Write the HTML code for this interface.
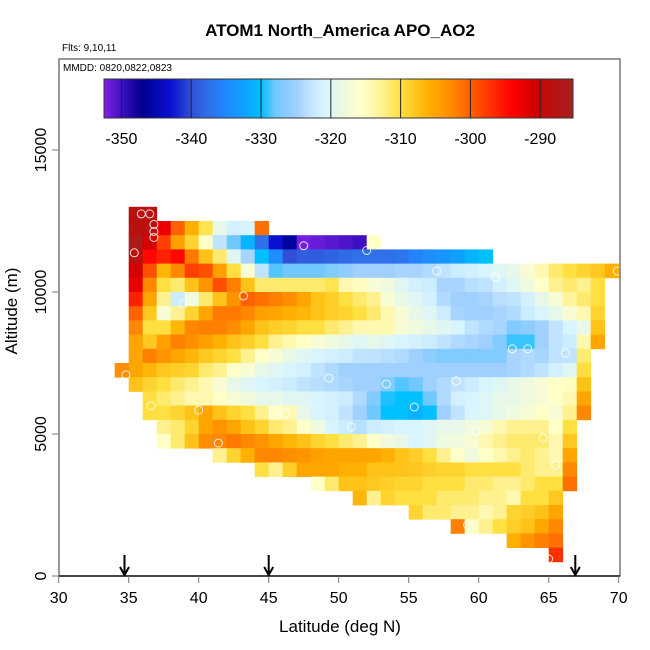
<!DOCTYPE html>
<html><head><meta charset="utf-8">
<style>
html,body{margin:0;padding:0;background:#fff;}
svg{display:block;font-family:"Liberation Sans",Arial,sans-serif;}
</style></head>
<body>
<svg id="chart" width="650" height="650" viewBox="0 0 650 650" xmlns="http://www.w3.org/2000/svg">
  <text x="340" y="36" font-size="17" font-weight="bold" text-anchor="middle">ATOM1 North_America APO_AO2</text>
  <text x="62" y="51" font-size="10">Flts: 9,10,11</text>
  <g id="cells"></g>
  <g id="points"></g>
  <rect x="59" y="59" width="561" height="517" fill="none" stroke="#777" stroke-width="1.5"/>
  <line x1="59" y1="576" x2="620" y2="576" stroke="#000" stroke-width="1.2"/>
  <text x="63" y="71" font-size="10">MMDD: 0820,0822,0823</text>
  <g id="cbar"></g>
  <g id="axes"></g>
  <g id="arrows"></g>
  <text x="340" y="632" font-size="17" text-anchor="middle">Latitude (deg N)</text>
  <text transform="translate(17,311) rotate(-90)" font-size="17" text-anchor="middle">Altitude (m)</text>
</svg>
<script>
// ---- data ----
const altRowTops = [13000,12500,12000,11500,11000,10500,10000,9500,9000,8500,8000,7500,7000,6500,6000,5500,5000,4500,4000,3500,3000,2500,2000,1500,1000];
const rowStartLat = [35,35,35,35,35,35,35,35,35,35,35,34,35,36,36,37,37,41,44,48,51,55,58,62,65];
const rowValues = [
[-288.5,-288.5],
[-288.5,-288.5,-292.5,-300,-306,-310.5,-319,-321.5,-321,-301],
[-286,-291,-298,-304.5,-309,-315.5,-323,-328,-331,-337.5,-343,-346,-352,-351.5,-351,-350.5,-350,-315.5],
[-288.5,-294.5,-296,-294.5,-301.5,-307.5,-311.5,-320,-324.5,-330,-334.5,-340,-339,-339,-338.5,-338,-337.5,-337.5,-337.5,-337,-335.5,-334.5,-333.5,-332.5,-331,-330],
[-291,-299,-306.5,-302.5,-298,-299,-304.5,-310,-317,-323,-328.5,-328,-328,-328,-327,-326,-325,-325,-325,-324.5,-324.5,-324,-323,-322,-321.5,-321,-320,-319,-317,-314,-311.5,-310,-309,-308,-306],
[-292.5,-302.5,-310,-311.5,-307.5,-303.5,-299,-302,-307.5,-311.5,-311.5,-311.5,-311.5,-311.5,-310.5,-314,-315,-317,-318,-320,-321.5,-322,-324.5,-324.5,-323.5,-323,-321.5,-320,-318,-315.5,-312.5,-311.5,-312.5,-310],
[-296,-305,-312.5,-322,-318,-311.5,-307.5,-303.5,-300,-301,-302,-303,-305,-307.5,-308.5,-310,-311.5,-312.5,-317,-319,-320,-321.5,-324,-325,-325,-324.5,-323.5,-323,-321.5,-319,-317,-313,-311.5,-310],
[-300,-308,-317,-312.5,-309,-305,-301.5,-301.5,-302.5,-304.5,-305,-306,-306.5,-307.5,-308.5,-309,-310,-311.5,-314,-317,-319,-320,-322,-324.5,-325,-325,-324.5,-324,-322,-321,-319,-317,-314,-309],
[-302.5,-310,-310,-306.5,-302.5,-302,-302,-303,-305,-307.5,-308.5,-309,-310,-310,-311.5,-312.5,-314,-314,-314,-317,-318,-319,-320,-321,-323,-324,-324.5,-327,-326,-325,-323,-321,-319,-307.5],
[-305,-308,-304.5,-302,-303,-304.5,-306,-307.5,-308.5,-310,-312.5,-314,-315.5,-317,-318,-319,-320,-319,-320,-321,-321.5,-322,-323,-324,-324.5,-325,-327,-329,-329,-325,-323,-322,-314,-305],
[-305,-302,-303.5,-305,-306.5,-308,-309,-310,-312.5,-315.5,-317,-319,-320,-321,-321.5,-322,-323,-323,-323.5,-324,-325,-326,-327,-327,-327,-327,-327,-324.5,-324,-324.5,-323,-323,-311.5],
[-303,-305,-306.5,-308,-308.5,-309,-311.5,-312.5,-315.5,-317,-319,-320,-321,-321.5,-323,-324,-325,-325,-325,-325,-325,-325,-325,-325,-325,-325,-325,-325,-324.5,-324,-323,-321.5,-320,-310],
[-307.5,-309,-310,-311.5,-312.5,-314,-317,-319,-320,-321,-321.5,-322,-323,-323.5,-324,-324.5,-325,-325,-327,-328.5,-328,-325,-324,-323,-322,-321,-320,-319,-318,-317,-315.5,-315,-307.5],
[-310,-311.5,-312.5,-314,-314,-315.5,-317,-318,-319,-319,-320,-320,-321,-321.5,-322,-324,-327,-329.5,-330,-330,-328,-324,-321.5,-321,-320,-319,-319,-318,-317,-315.5,-314,-305],
[-310,-310,-309,-307.5,-305,-307.5,-309,-310,-312.5,-315.5,-314,-319,-321,-321.5,-323,-325,-328,-330,-330,-331,-330,-325,-323,-321,-320,-319,-318,-317,-315.5,-317,-312.5,-302.5],
[-312.5,-311.5,-309,-305,-303.5,-305,-307.5,-309,-311.5,-312.5,-315.5,-318,-321,-322,-323.5,-322,-321.5,-321,-321,-320,-319,-319,-318,-317,-314,-312.5,-312.5,-312.5,-315.5,-310],
[-315.5,-311.5,-307.5,-303,-302.5,-301.5,-302.5,-303.5,-305,-306.5,-307.5,-309,-310,-311.5,-312.5,-315.5,-318,-319,-321,-320,-318,-318,-317,-314,-312.5,-311.5,-311.5,-311.5,-314,-308],
[-312.5,-309,-306,-302.5,-302.5,-303,-303.5,-304.5,-305,-305,-305,-305,-306,-307.5,-308.5,-310,-312.5,-315.5,-318,-315.5,-314,-312.5,-311.5,-312.5,-314,-305],
[-310,-312.5,-308.5,-305,-305,-305,-306,-306,-307.5,-307.5,-307.5,-308,-308.5,-309,-309,-310,-310,-310,-310,-311.5,-312.5,-312.5,-302.5],
[-315.5,-311.5,-307.5,-307.5,-308,-308.5,-309,-309,-310,-310,-310,-311.5,-311.5,-312.5,-312.5,-311.5,-310,-310,-301],
[-306.5,-312.5,-309,-310,-310,-310,-311.5,-311.5,-311.5,-312.5,-312.5,-314,-310,-310,-308],
[-309,-311.5,-311.5,-312.5,-312.5,-314,-312.5,-309,-308.5,-307.5,-305],
[-302,-315.5,-312.5,-310,-308.5,-307.5,-305,-302.5],
[-306,-303.5,-302,-301],
[-297]
];
const pointLat = [35.9,36.5,36.8,36.8,36.8,35.4,47.5,52.0,57.0,61.2,69.9,43.2,38.9,34.8,36.6,40.0,41.4,46.2,49.3,53.4,58.4,55.4,50.9,59.8,62.4,63.5,66.2,64.6,65.5,59.2,65.0];
const pointAlt = [12750,12750,12380,12130,11920,11380,11630,11460,10740,10530,10740,9860,9580,7080,6000,5840,4680,5740,6970,6760,6870,5950,5250,5110,8000,8000,7850,4860,3910,1800,600];
const arrowLat = [34.7,45.0,66.9];
const xTicks = [30,35,40,45,50,55,60,65,70];
const yTicks = [0,5000,10000,15000];
const cbarTicks = [-350,-340,-330,-320,-310,-300,-290];
const cbarMin = -352.5, cbarMax = -285.3;

// ---- scales ----
const xS = lat => 58.7 + (lat-30)*14;
const yS = alt => 576 - alt*(426/15000);
const stops = [[-352.5,'#8222e8'],[-350,'#4010c0'],[-347,'#000090'],[-343,'#0a10d0'],[-340,'#3050d8'],[-337.5,'#3070e8'],[-335,'#2088ff'],[-332.5,'#10a0ff'],[-330,'#00c0ff'],[-328,'#70c8ff'],[-325,'#a0d0ff'],[-323,'#c0e4ff'],[-321,'#d8f4ff'],[-319,'#e8f8e8'],[-317,'#f8fcd4'],[-315.5,'#ffffc8'],[-314,'#fff8b0'],[-312.5,'#fff090'],[-310,'#ffe040'],[-308,'#ffc820'],[-306,'#ffb000'],[-304.5,'#ffa000'],[-302.5,'#ff8800'],[-301,'#ff7000'],[-299,'#ff5000'],[-296,'#ff2000'],[-294,'#ff0000'],[-291,'#d40000'],[-288.5,'#bb1010'],[-285,'#a52020']];
function hex(h){return [parseInt(h.substr(1,2),16),parseInt(h.substr(3,2),16),parseInt(h.substr(5,2),16)];}
function color(v){
  if(v<=stops[0][0]) return stops[0][1];
  for(let i=1;i<stops.length;i++){
    if(v<=stops[i][0]){
      const t=(v-stops[i-1][0])/(stops[i][0]-stops[i-1][0]);
      const a=hex(stops[i-1][1]),b=hex(stops[i][1]);
      return 'rgb('+a.map((c,k)=>Math.round(c+(b[k]-c)*t)).join(',')+')';
    }
  }
  return stops[stops.length-1][1];
}
const NS='http://www.w3.org/2000/svg';
function mk(tag,attrs,parent){const e=document.createElementNS(NS,tag);for(const k in attrs)e.setAttribute(k,attrs[k]);parent.appendChild(e);return e;}

// ---- cells ----
const cells=document.getElementById('cells');
rowValues.forEach((vals,r)=>{
  const top=altRowTops[r];
  vals.forEach((v,i)=>{
    const lat=rowStartLat[r]+i;
    const x0=xS(lat),x1=xS(lat+1),y0=yS(top),y1=yS(top-500);
    const c=mk('rect',{x:x0.toFixed(2),y:y0.toFixed(2),width:(x1-x0+0.4).toFixed(2),height:(y1-y0+0.4).toFixed(2),fill:color(v)},cells);
    
    
  });
});

// ---- points ----
const pts=document.getElementById('points');
pointLat.forEach((lat,i)=>{
  const c=mk('circle',{cx:xS(lat).toFixed(1),cy:yS(pointAlt[i]).toFixed(1),r:4,fill:'none',stroke:'#fff','stroke-width':1,opacity:0.85},pts);
  
  
});

// ---- axes ----
const ax=document.getElementById('axes');
xTicks.forEach(t=>{
  const x=xS(t);
  const l=mk('line',{x1:x,y1:576,x2:x,y2:583,stroke:'#777','stroke-width':1},ax);
  
  
  const tx=mk('text',{x:x,y:603,'font-size':16,'text-anchor':'middle'},ax);
  tx.textContent=t;
  
  
});
yTicks.forEach(t=>{
  const y=yS(t);
  const l=mk('line',{x1:52,y1:y,x2:59,y2:y,stroke:'#777','stroke-width':1},ax);
  
  
  const tx=mk('text',{transform:'translate(46,'+y+') rotate(-90)','font-size':16,'text-anchor':'middle'},ax);
  tx.textContent=t;
  
  
});

// ---- arrows ----
const ar=document.getElementById('arrows');
arrowLat.forEach(lat=>{
  const x=xS(lat);
  const g=mk('g',{},ar);
  
  
  mk('line',{x1:x,y1:555,x2:x,y2:575,stroke:'#000','stroke-width':2},g);
  mk('polyline',{points:(x-4.5)+',567 '+x+',575 '+(x+4.5)+',567',fill:'none',stroke:'#000','stroke-width':2},g);
});

// ---- colorbar ----
const cb=document.getElementById('cbar');
const bx0=104,bx1=573,by0=79,by1=118;
const bS=v=>bx0+(v-cbarMin)/(cbarMax-cbarMin)*(bx1-bx0);
const N=235;
for(let i=0;i<N;i++){
  const v=cbarMin+(i+0.5)/N*(cbarMax-cbarMin);
  mk('rect',{x:(bx0+i*(bx1-bx0)/N).toFixed(2),y:by0,width:((bx1-bx0)/N+0.5).toFixed(2),height:by1-by0,fill:color(v)},cb);
}
mk('rect',{x:bx0,y:by0,width:bx1-bx0,height:by1-by0,fill:'none',stroke:'#333','stroke-width':1},cb);
cbarTicks.forEach(t=>{
  const x=bS(t);
  const l=mk('line',{x1:x,y1:by0,x2:x,y2:by1,stroke:'#222','stroke-width':1},cb);
  
  
  const tx=mk('text',{x:x,y:144,'font-size':16,'text-anchor':'middle'},cb);
  tx.textContent=t;
  
  
});
</script>
</body></html>
